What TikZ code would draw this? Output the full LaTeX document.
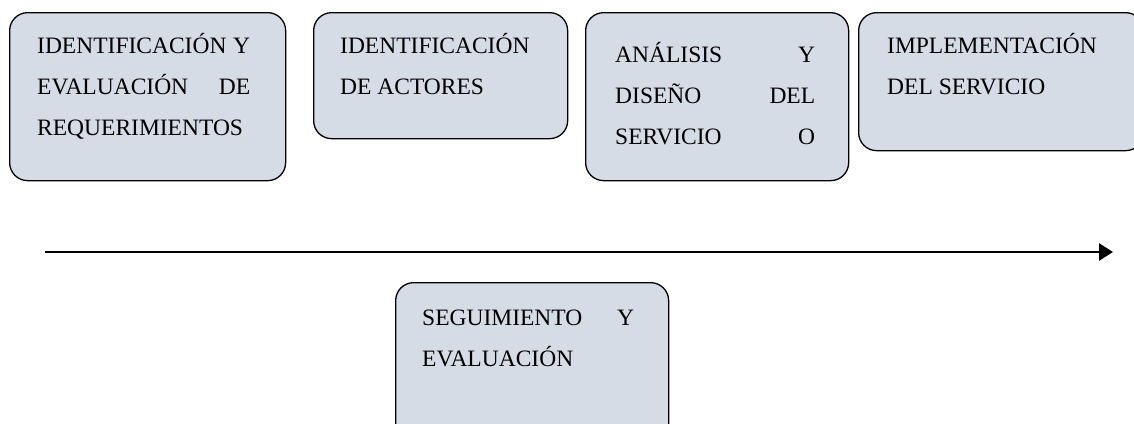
\documentclass[tikz,border=0pt]{standalone}
\usepackage{fontspec}
\setmainfont{Liberation Serif}
\usetikzlibrary{arrows.meta}
\definecolor{boxfill}{RGB}{214,220,229}
\tikzset{
  stage/.style={draw=black, line width=1.3pt, fill=boxfill, rounded corners=18pt, inner sep=0pt, anchor=north west},
  stagetext/.style={anchor=base west, inner sep=0pt, font=\fontsize{23.5}{41}\selectfont},
  timeline/.style={line width=2.8pt, -{Triangle[length=14pt,width=17pt]}}
}
\newcommand{\jline}[2]{\makebox[#1][s]{#2}}
\begin{document}
\begin{tikzpicture}[x=1pt,y=-1pt]
\useasboundingbox (0,0) rectangle (1134,423);
\clip (0,0) rectangle (1134,423);
% boxes
\node[stage, minimum width=276pt, minimum height=168pt] (b1) at (9,12) {};
\node[stage, minimum width=254pt, minimum height=126pt] (b2) at (313,12) {};
\node[stage, minimum width=263pt, minimum height=168pt] (b3) at (585,12) {};
\node[stage, minimum width=285pt, minimum height=138pt] (b4) at (858,12) {};
\node[stage, minimum width=273pt, minimum height=170pt] (b5) at (395,282) {};
% texts
\node[stagetext] (t1) at (37,53) {\parbox[t]{213pt}{\jline{213pt}{IDENTIFICACIÓN Y}\\\jline{213pt}{EVALUACIÓN DE}\\REQUERIMIENTOS}};
\node[stagetext] (t2) at (340,53) {\parbox[t]{220pt}{IDENTIFICACIÓN\\DE ACTORES}};
\node[stagetext] (t3) at (615,62) {\parbox[t]{200pt}{\jline{200pt}{ANÁLISIS Y}\\\jline{200pt}{DISEÑO DEL}\\\jline{200pt}{SERVICIO O}}};
\node[stagetext] (t4) at (887,53) {\parbox[t]{230pt}{IMPLEMENTACIÓN\\DEL SERVICIO}};
\node[stagetext] (t5) at (422,325) {\parbox[t]{216pt}{\jline{212pt}{SEGUIMIENTO Y}\\EVALUACIÓN}};
% timeline arrow
\coordinate (as) at (45,252);
\coordinate (ae) at (1113,252);
\draw[timeline] (as) -- (ae);
\end{tikzpicture}
\end{document}
